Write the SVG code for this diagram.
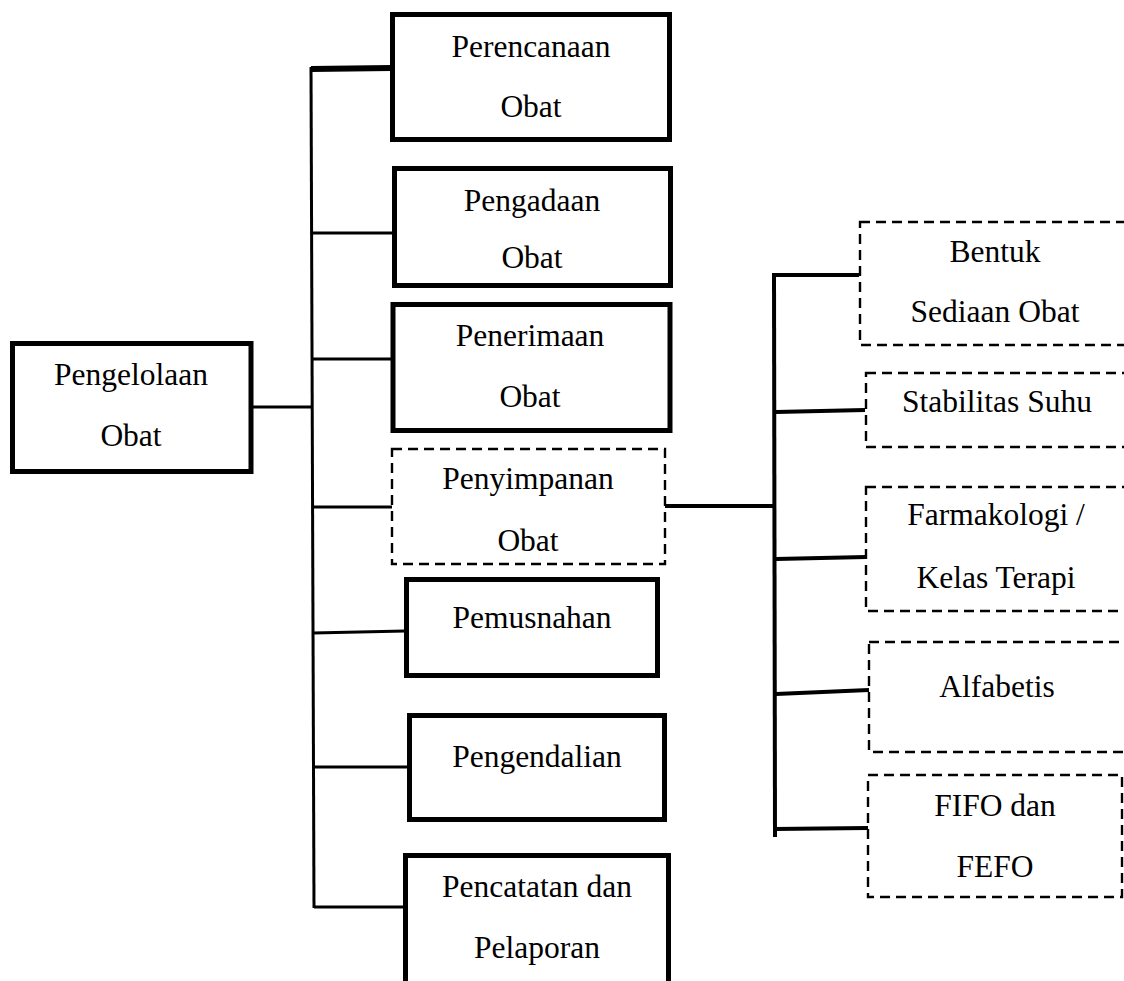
<svg xmlns="http://www.w3.org/2000/svg" width="1124" height="981" viewBox="0 0 1124 981">
<style>
.box{fill:#fff;stroke:#000;stroke-width:5}
.dbox{fill:#fff;stroke:#000;stroke-width:2.4;stroke-dasharray:10 6}
.t{font-family:"Liberation Serif","Times New Roman",serif;font-size:31.5px;fill:#000;text-anchor:middle}
.c{stroke:#000;stroke-width:3;fill:none}
.c4{stroke:#000;stroke-width:4;fill:none}
</style>
<rect width="1124" height="981" fill="#fff"/>
<g id="connectors">
<line class="c" x1="253" y1="407" x2="312" y2="407"/>
<line class="c" x1="311" y1="67" x2="314" y2="908"/>
<line class="c" x1="311" y1="69" x2="391" y2="68" style="stroke-width:6"/>
<line class="c" x1="311" y1="233" x2="393" y2="233"/>
<line class="c" x1="311" y1="359" x2="392" y2="359"/>
<line class="c" x1="312" y1="507" x2="392" y2="507"/>
<line class="c" x1="313" y1="633" x2="405" y2="631"/>
<line class="c" x1="314" y1="767" x2="408" y2="767"/>
<line class="c" x1="314" y1="907" x2="404" y2="907"/>
<line class="c4" x1="665" y1="506" x2="775" y2="506"/>
<line class="c4" x1="774" y1="273" x2="775" y2="837"/>
<line class="c4" x1="774" y1="275" x2="859" y2="275"/>
<line class="c4" x1="776" y1="412" x2="865" y2="410"/>
<line class="c4" x1="776" y1="559" x2="866" y2="557"/>
<line class="c4" x1="776" y1="694" x2="869" y2="690"/>
<line class="c4" x1="774" y1="829" x2="868" y2="828"/>
</g>
<g id="pengelolaan">
<rect class="box" x="12.5" y="343.5" width="238.5" height="128"/>
<text class="t" x="131" y="385">Pengelolaan</text>
<text class="t" x="131" y="446">Obat</text>
</g>
<g id="perencanaan">
<rect class="box" x="392.5" y="14.5" width="277" height="125"/>
<text class="t" x="531" y="57">Perencanaan</text>
<text class="t" x="531" y="117">Obat</text>
</g>
<g id="pengadaan">
<rect class="box" x="394.5" y="168.5" width="276" height="117"/>
<text class="t" x="532" y="211">Pengadaan</text>
<text class="t" x="532" y="268">Obat</text>
</g>
<g id="penerimaan">
<rect class="box" x="393" y="304.5" width="277" height="126"/>
<text class="t" x="530" y="346">Penerimaan</text>
<text class="t" x="530" y="407">Obat</text>
</g>
<g id="penyimpanan">
<rect class="dbox" x="392" y="449" width="273" height="115"/>
<text class="t" x="528" y="489">Penyimpanan</text>
<text class="t" x="528" y="551">Obat</text>
</g>
<g id="pemusnahan">
<rect class="box" x="406.5" y="579.5" width="251" height="96"/>
<text class="t" x="532" y="628">Pemusnahan</text>
</g>
<g id="pengendalian">
<rect class="box" x="409.5" y="715.5" width="255" height="104"/>
<text class="t" x="537" y="767">Pengendalian</text>
</g>
<g id="pencatatan">
<rect class="box" x="405.5" y="855.5" width="263" height="140"/>
<text class="t" x="537" y="897">Pencatatan dan</text>
<text class="t" x="537" y="958">Pelaporan</text>
</g>
<g id="bentuk">
<rect class="dbox" x="860" y="222" width="280" height="123"/>
<text class="t" x="995" y="262">Bentuk</text>
<text class="t" x="995" y="322">Sediaan Obat</text>
</g>
<g id="stabilitas">
<rect class="dbox" x="866" y="373" width="280" height="74"/>
<text class="t" x="997" y="412">Stabilitas Suhu</text>
</g>
<g id="farmakologi">
<rect class="dbox" x="866" y="487" width="280" height="124"/>
<text class="t" x="996" y="525">Farmakologi /</text>
<text class="t" x="996" y="588">Kelas Terapi</text>
</g>
<g id="alfabetis">
<rect class="dbox" x="869" y="642" width="280" height="110"/>
<text class="t" x="997" y="697">Alfabetis</text>
</g>
<g id="fifo">
<rect class="dbox" x="868" y="775" width="254" height="122"/>
<text class="t" x="995" y="816">FIFO dan</text>
<text class="t" x="995" y="877">FEFO</text>
</g>
</svg>
